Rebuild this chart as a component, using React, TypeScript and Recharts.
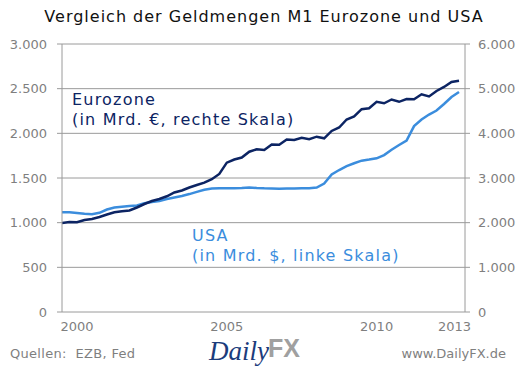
import { LineChart, Line, XAxis, YAxis, CartesianGrid } from 'recharts'

const quarters = [
  '2000-Q1', '2000-Q2', '2000-Q3', '2000-Q4', '2001-Q1', '2001-Q2', '2001-Q3', '2001-Q4',
  '2002-Q1', '2002-Q2', '2002-Q3', '2002-Q4', '2003-Q1', '2003-Q2', '2003-Q3', '2003-Q4',
  '2004-Q1', '2004-Q2', '2004-Q3', '2004-Q4', '2005-Q1', '2005-Q2', '2005-Q3', '2005-Q4',
  '2006-Q1', '2006-Q2', '2006-Q3', '2006-Q4', '2007-Q1', '2007-Q2', '2007-Q3', '2007-Q4',
  '2008-Q1', '2008-Q2', '2008-Q3', '2008-Q4', '2009-Q1', '2009-Q2', '2009-Q3', '2009-Q4',
  '2010-Q1', '2010-Q2', '2010-Q3', '2010-Q4', '2011-Q1', '2011-Q2', '2011-Q3', '2011-Q4',
  '2012-Q1', '2012-Q2', '2012-Q3', '2012-Q4', '2013-Q1', '2013-Q2',
]

// Mrd. EUR, rechte Skala
const eurozone = [
  1993, 2015, 2008, 2060, 2082, 2127, 2183, 2232, 2257, 2273, 2340, 2418, 2485, 2530,
  2591, 2676, 2720, 2788, 2843, 2895, 2973, 3090, 3343, 3414, 3459, 3589, 3643, 3627,
  3750, 3744, 3862, 3851, 3900, 3867, 3925, 3889, 4053, 4131, 4310, 4377, 4541, 4561,
  4706, 4673, 4758, 4706, 4769, 4764, 4874, 4825, 4948, 5038, 5150, 5179,
]

// Mrd. USD, linke Skala
const usa = [
  1116, 1116, 1108, 1099, 1094, 1110, 1147, 1169, 1179, 1186, 1192, 1217, 1231, 1242,
  1264, 1281, 1298, 1320, 1345, 1368, 1382, 1384, 1385, 1386, 1388, 1395, 1388, 1384,
  1382, 1381, 1382, 1383, 1384, 1386, 1393, 1438, 1539, 1589, 1632, 1665, 1694, 1706,
  1720, 1757, 1816, 1869, 1919, 2081, 2154, 2210, 2255, 2328, 2406, 2462,
]

const yearTicks = [2000, 2001, 2002, 2003, 2004, 2005, 2006, 2007, 2008, 2009, 2010, 2011, 2012, 2013]
const yearLabels = [2000.5, 2005.5, 2010.5, 2013.1]
const leftTicks = [0, 500, 1000, 1500, 2000, 2500, 3000]
const rightTicks = [0, 1000, 2000, 3000, 4000, 5000, 6000]

const data = quarters.map((q, i) => {
  const [y, qq] = q.split('-Q')
  return { t: Number(y) + (Number(qq) - 1) / 4, eurozone: eurozone[i], usa: usa[i] }
})

const fmt = (v: number) => v.toLocaleString('de-DE')
const font = 'DejaVu Sans, Verdana, sans-serif'
const tickStyle = { fontSize: 13, fill: '#7f7f7f', fontFamily: font }
const navy = '#0c2463'
const blue = '#3b8ddd'

export default function App() {
  return (
    <div style={{ position: 'absolute', left: 0, top: 0, width: 530, height: 375, background: '#fff' }}>
      <LineChart width={530} height={375} data={data} margin={{ top: 44, right: 0, left: 0, bottom: 33 }}>
        <CartesianGrid yAxisId="left" vertical={false} stroke="#9a9a9a" horizontalValues={leftTicks} />
        <XAxis
          xAxisId={0}
          dataKey="t"
          type="number"
          domain={[2000, 2013.45]}
          ticks={yearTicks}
          tick={() => <g />}
          tickSize={5}
          height={0}
          stroke="#9a9a9a"
          allowDataOverflow
        />
        <XAxis
          xAxisId="lab"
          dataKey="t"
          type="number"
          domain={[2000, 2013.45]}
          ticks={yearLabels}
          tickFormatter={(v: number) => String(Math.floor(v))}
          tick={tickStyle}
          tickLine={false}
          axisLine={false}
          tickSize={0}
          tickMargin={10}
          height={30}
          allowDataOverflow
        />
        <YAxis
          yAxisId="left"
          domain={[0, 3000]}
          ticks={leftTicks}
          tickFormatter={fmt}
          tick={tickStyle}
          tickSize={5}
          tickMargin={10}
          width={62}
          stroke="#9a9a9a"
        />
        <YAxis
          yAxisId="right"
          orientation="right"
          domain={[0, 6000]}
          ticks={rightTicks}
          tickFormatter={fmt}
          tick={{ ...tickStyle, textAnchor: 'start' }}
          tickSize={5}
          tickMargin={8}
          width={65}
          stroke="#9a9a9a"
        />
        <Line yAxisId="left" dataKey="usa" stroke={blue} strokeWidth={2.5} dot={false} isAnimationActive={false} />
        <Line yAxisId="right" dataKey="eurozone" stroke={navy} strokeWidth={2.5} dot={false} isAnimationActive={false} />
      </LineChart>
      <svg width={530} height={375} style={{ position: 'absolute', left: 0, top: 0, pointerEvents: 'none' }} fontFamily={font}>
        <text x={264} y={22} textAnchor="middle" fontSize={16} letterSpacing={1.0} fill="#111">
          Vergleich der Geldmengen M1 Eurozone und USA
        </text>
        <text x={72} y={105} fontSize={16} letterSpacing={1.2} fill={navy}>Eurozone</text>
        <text x={72} y={125} fontSize={16} letterSpacing={1.2} fill={navy}>(in Mrd. €, rechte Skala)</text>
        <text x={192} y={241} fontSize={16} letterSpacing={1.2} fill={blue}>USA</text>
        <text x={192} y={261} fontSize={16} letterSpacing={1.2} fill={blue}>(in Mrd. $, linke Skala)</text>
        <text x={10} y={358} fontSize={13} letterSpacing={0.3} fill="#7f7f7f">{'Quellen:\u00a0 EZB, Fed'}</text>
        <text x={506} y={358} fontSize={13} fill="#7f7f7f" textAnchor="end">www.DailyFX.de</text>
        <text x={209} y={360} fontSize={27} fontStyle="italic" fontFamily="Liberation Serif, serif" fill="#1b3c7c">Daily</text>
        <text x={268} y={357} fontSize={25} fontWeight="bold" fontFamily="Liberation Sans, Arial, sans-serif" fill="#a0a0a0">FX</text>
      </svg>
    </div>
  )
}
